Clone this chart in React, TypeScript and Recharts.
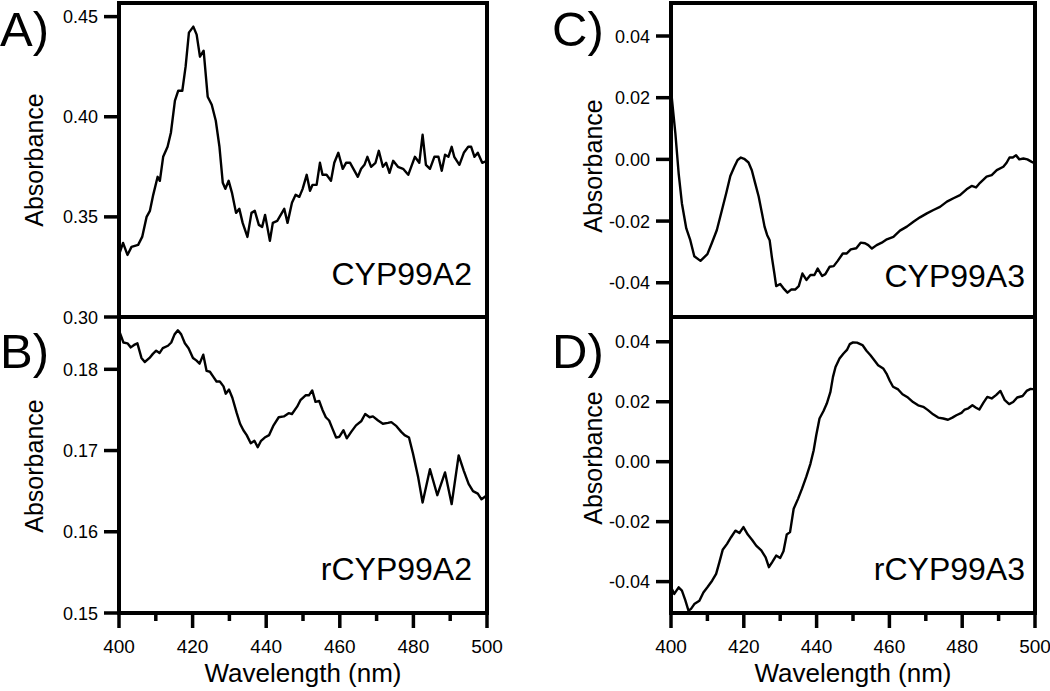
import { LineChart, Line, XAxis, YAxis } from "recharts";

// Panel A: CYP99A2
const aWave = [400, 401.1, 402.3, 403.4, 405.2, 406.3, 407.5, 408.4, 409.3, 410.5, 411.1, 412, 413.2, 414.1, 415.2, 416.1, 417.2, 418.1, 419, 420.2, 421.1, 422, 423, 424.1, 425.2, 426.3, 427.3, 428.2, 428.9, 429.8, 430.7, 431.8, 432.7, 433.6, 434.9, 436, 436.9, 438, 438.9, 439.7, 441, 441.8, 443, 444.9, 445.8, 447, 448, 449, 449.9, 451, 451.9, 452.6, 453.7, 454.6, 455.3, 456.4, 457.6, 458.5, 459.6, 460.8, 461.7, 462.8, 464.9, 465.8, 466.7, 467.5, 468.5, 469.7, 470.6, 471.7, 472.6, 473.5, 474.5, 475.8, 477.2, 478.6, 480.4, 481.6, 482.5, 483.4, 484.5, 485.7, 486.8, 487.7, 488.6, 489.5, 490.4, 491.1, 492.5, 493.7, 494.9, 495.7, 496.6, 497.5, 498.7, 500];
const aAbs = [0.331, 0.337, 0.331, 0.335, 0.336, 0.34, 0.35, 0.353, 0.361, 0.37, 0.368, 0.38, 0.385, 0.392, 0.408, 0.413, 0.413, 0.425, 0.442, 0.445, 0.441, 0.43, 0.433, 0.41, 0.406, 0.398, 0.385, 0.367, 0.364, 0.368, 0.362, 0.352, 0.354, 0.347, 0.34, 0.352, 0.353, 0.346, 0.345, 0.351, 0.338, 0.347, 0.348, 0.354, 0.347, 0.357, 0.361, 0.36, 0.364, 0.371, 0.363, 0.366, 0.366, 0.377, 0.371, 0.371, 0.368, 0.377, 0.382, 0.374, 0.377, 0.377, 0.37, 0.374, 0.376, 0.38, 0.375, 0.377, 0.383, 0.375, 0.377, 0.372, 0.378, 0.375, 0.374, 0.371, 0.38, 0.377, 0.391, 0.376, 0.374, 0.38, 0.38, 0.373, 0.381, 0.38, 0.385, 0.38, 0.376, 0.382, 0.385, 0.385, 0.38, 0.382, 0.377, 0.378];

// Panel B: rCYP99A2
const bWave = [400, 401.2, 402.3, 403.2, 404.1, 405, 406.1, 407, 408.3, 409.2, 410.1, 411, 411.9, 413.3, 414.2, 415.1, 416, 416.9, 417.9, 418.9, 420.1, 421, 421.9, 422.9, 423.8, 424.7, 425.6, 426.5, 427.4, 428.4, 429, 429.9, 430.8, 432, 432.9, 433.8, 434.7, 435.8, 436.8, 437.7, 438.6, 439.6, 440.8, 442, 443.4, 444.8, 446.1, 447, 448.4, 449.3, 450.7, 451.6, 452.5, 453.4, 454.4, 455.3, 456.2, 457.1, 458, 459, 459.9, 461, 461.9, 463.1, 464.4, 465.8, 466.9, 468.1, 469, 470.4, 471.7, 473.1, 474, 475.4, 476.7, 477.6, 478.8, 479.9, 481.3, 482.5, 484.5, 486.5, 488.6, 490.4, 492.3, 493.7, 495, 496.2, 497.5, 498.5, 500];
const bAbs = [0.1848, 0.1833, 0.1832, 0.1827, 0.183, 0.1832, 0.1814, 0.1809, 0.1814, 0.1819, 0.1823, 0.182, 0.1826, 0.1829, 0.1833, 0.1843, 0.1848, 0.1843, 0.1832, 0.1826, 0.1814, 0.1811, 0.1807, 0.1818, 0.1798, 0.1797, 0.1791, 0.1785, 0.1785, 0.1779, 0.177, 0.1775, 0.1765, 0.1746, 0.1733, 0.1725, 0.1719, 0.1709, 0.1712, 0.1704, 0.1712, 0.1716, 0.1719, 0.1731, 0.1741, 0.1742, 0.1746, 0.1745, 0.1754, 0.1762, 0.1768, 0.1768, 0.1774, 0.176, 0.1761, 0.175, 0.1741, 0.1737, 0.1727, 0.1716, 0.1717, 0.1725, 0.1715, 0.1723, 0.1731, 0.1736, 0.1745, 0.1741, 0.1742, 0.1737, 0.1733, 0.1734, 0.1735, 0.173, 0.1723, 0.1719, 0.1716, 0.1696, 0.1667, 0.1636, 0.1677, 0.1645, 0.1673, 0.1634, 0.1694, 0.1675, 0.1659, 0.165, 0.1647, 0.164, 0.1645];

// Panel C: CYP99A3
const cWave = [400, 401.2, 402.1, 403, 404.2, 405.3, 406.4, 408.1, 410, 411.2, 412.6, 414, 415.2, 416.3, 417.4, 418.3, 419.2, 420.1, 421.3, 422.2, 423.1, 424.1, 425, 425.7, 426.4, 427.1, 427.7, 428.4, 428.9, 430, 430.9, 432, 433, 434.1, 435.1, 436.1, 437.2, 438.3, 439.4, 440.3, 441.5, 442.4, 443.6, 444.7, 445.8, 447.2, 448.3, 449.4, 450.9, 452.1, 453.3, 454.2, 455.2, 456.5, 457.9, 459.3, 461.1, 462.9, 464.8, 466.6, 468.4, 470.3, 472.1, 473.9, 475.8, 477.6, 479.4, 481.2, 482.6, 483.8, 484.9, 486.7, 488.1, 489.5, 491.3, 492.2, 493, 493.9, 494.8, 495.7, 496.8, 497.9, 499.1, 500];
const cAbs = [0.0225, 0.0084, -0.0045, -0.0143, -0.0224, -0.0262, -0.0314, -0.0329, -0.0307, -0.0272, -0.0229, -0.0164, -0.0108, -0.0054, -0.0024, -0.0002, 0.0006, 0.0002, -0.001, -0.0035, -0.0076, -0.0121, -0.0175, -0.0218, -0.0245, -0.0262, -0.0316, -0.037, -0.0411, -0.0404, -0.0418, -0.0432, -0.0422, -0.0422, -0.0411, -0.037, -0.0391, -0.0375, -0.0375, -0.0354, -0.0378, -0.0372, -0.0348, -0.0346, -0.0329, -0.0305, -0.0305, -0.0292, -0.0288, -0.027, -0.0272, -0.0278, -0.0289, -0.0278, -0.027, -0.0259, -0.0251, -0.0231, -0.0218, -0.0202, -0.0188, -0.0175, -0.0164, -0.0154, -0.0137, -0.0126, -0.0116, -0.0097, -0.0086, -0.0091, -0.0076, -0.0056, -0.0051, -0.0035, -0.0024, -0.0011, 0.0006, 0.0006, 0.0013, 0.0, 0.0003, 0.0, -0.0008, -0.0013];

// Panel D: rCYP99A3
const dWave = [400, 400.9, 402.1, 403, 403.9, 404.8, 405.5, 406.4, 407.8, 408.9, 410.1, 411.3, 412.4, 413.3, 414.2, 415.4, 416.5, 417.7, 418.8, 419.9, 421.1, 422.3, 423.4, 424.8, 426, 426.9, 427.8, 428.9, 430, 430.9, 431.8, 432.7, 433.7, 434.9, 436, 437.2, 438.3, 439.2, 439.9, 440.8, 441.9, 442.8, 443.8, 444.5, 445.2, 446.3, 447.4, 448.4, 449.1, 450, 451.1, 452.6, 453.7, 454.8, 455.7, 456.9, 458.3, 459.2, 460.1, 461, 462.4, 463.6, 465.1, 466.5, 467.9, 469.3, 470.6, 472, 473.4, 474.8, 476.1, 477.3, 478.4, 479.8, 480.7, 481.7, 482.8, 483.8, 484.7, 485.8, 486.9, 488.1, 489.3, 490.5, 491.7, 492.9, 494, 495.1, 496.6, 497.7, 498.8, 500];
const dAbs = [-0.0419, -0.0441, -0.0419, -0.043, -0.0461, -0.0497, -0.0491, -0.0475, -0.0464, -0.0436, -0.0417, -0.0397, -0.0374, -0.0335, -0.0294, -0.0274, -0.0252, -0.023, -0.0238, -0.0218, -0.0243, -0.0261, -0.028, -0.0296, -0.0319, -0.0352, -0.0335, -0.0313, -0.0321, -0.0299, -0.0243, -0.0235, -0.0157, -0.0124, -0.009, -0.0049, -0.0007, 0.0038, 0.0088, 0.0144, 0.0169, 0.0194, 0.0233, 0.0283, 0.0316, 0.0344, 0.0361, 0.0374, 0.0392, 0.0398, 0.0397, 0.0389, 0.037, 0.0355, 0.0341, 0.0322, 0.0311, 0.0294, 0.027, 0.025, 0.0241, 0.0225, 0.0214, 0.0199, 0.0188, 0.0183, 0.0172, 0.0158, 0.0147, 0.0144, 0.014, 0.0147, 0.0155, 0.0163, 0.0174, 0.0178, 0.0188, 0.018, 0.0174, 0.0196, 0.0216, 0.0211, 0.0222, 0.0236, 0.0205, 0.0192, 0.0199, 0.0214, 0.0219, 0.0236, 0.0243, 0.0241];

const xMajor = [400, 420, 440, 460, 480, 500];
const xMinor = [410, 430, 450, 470, 490];
const aTicks = [0.3, 0.35, 0.4, 0.45];
const bTicks = [0.15, 0.16, 0.17, 0.18];
const cdTicks = [-0.04, -0.02, 0, 0.02, 0.04];

const FONT = '"Liberation Sans", Arial, sans-serif';
const border = { stroke: "#000", strokeWidth: 4, strokeLinecap: "square" as const };
const tickStroke = { stroke: "#000", strokeWidth: 3.5 };

const XLabel = ({ x, y, payload }: any) => (
  <text x={x} y={y} dy={19} textAnchor="middle" fontSize={19} fontFamily={FONT} fill="#000">
    {payload.value}
  </text>
);

const YLabel = ({ x, y, payload }: any) => (
  <text x={x} y={y} dy={6.5} textAnchor="end" fontSize={18} fontFamily={FONT} fill="#000">
    {payload.value.toFixed(2)}
  </text>
);

const Empty = () => <g />;

interface PanelProps {
  wave: number[];
  abs: number[];
  domain: [number, number];
  yTicks: number[];
  left: number;
  top: number;
  width: number;
  height: number;
  plot: { l: number; r: number; t: number; b: number };
  showX: boolean;
}

function Panel({ wave, abs, domain, yTicks, left, top, width, height, plot, showX }: PanelProps) {
  const data = wave.map((w, i) => ({ w, v: abs[i] }));
  // every axis is 1px thick; the second bottom axis (minor ticks) adds one more
  const margin = {
    top: plot.t - top - 1,
    bottom: top + height - plot.b - 2,
    left: plot.l - left - 1,
    right: left + width - plot.r - 1,
  };
  // top panels share their bottom edge with the lower panel and carry no x ticks
  const xTickLine = showX ? tickStroke : false;
  return (
    <div style={{ position: "absolute", left, top }}>
      <LineChart width={width} height={height} data={data} margin={margin}>
        <XAxis xAxisId="b" dataKey="w" type="number" domain={[400, 500]} ticks={xMajor} interval={0}
          height={1} tickSize={15} tickMargin={6} tickLine={xTickLine} axisLine={border} allowDataOverflow
          tick={showX ? (p: any) => <XLabel {...p} /> : Empty} />
        <XAxis xAxisId="m" dataKey="w" type="number" domain={[400, 500]} ticks={xMinor} interval={0}
          height={1} tickSize={7} tickLine={xTickLine} axisLine={false} tick={Empty} />
        <XAxis xAxisId="t" orientation="top" dataKey="w" type="number" domain={[400, 500]}
          height={1} tick={false} tickLine={false} axisLine={border} />
        <YAxis yAxisId="l" type="number" domain={domain} ticks={yTicks} interval={0} width={1}
          tickSize={15} tickMargin={6} tickLine={tickStroke} axisLine={border} allowDataOverflow
          tick={(p: any) => <YLabel {...p} />} />
        <YAxis yAxisId="r" orientation="right" type="number" domain={domain} width={1}
          tick={false} tickLine={false} axisLine={border} allowDataOverflow />
        <Line xAxisId="b" yAxisId="l" type="linear" dataKey="v" stroke="#000" strokeWidth={2.4}
          strokeLinejoin="round" dot={false} isAnimationActive={false} />
      </LineChart>
    </div>
  );
}

const T = ({ x, y, size, anchor = "start", children, rotate }: any) => (
  <text x={x} y={y} fontSize={size} fontFamily={FONT} fill="#000" textAnchor={anchor}
    transform={rotate ? `rotate(-90 ${x} ${y})` : undefined}>
    {children}
  </text>
);

export default function App() {
  return (
    <div style={{ position: "absolute", left: 0, top: 0, width: 1050, height: 691, background: "#fff" }}>
      <Panel wave={aWave} abs={aAbs} domain={[0.3, 0.4568]} yTicks={aTicks} left={0} top={0}
        width={525} height={330} plot={{ l: 119, r: 487, t: 3, b: 317 }} showX={false} />
      <Panel wave={bWave} abs={bAbs} domain={[0.15, 0.18644]} yTicks={bTicks} left={0} top={300}
        width={525} height={391} plot={{ l: 119, r: 487, t: 317, b: 613 }} showX />
      <Panel wave={cWave} abs={cAbs} domain={[-0.0511, 0.0507]} yTicks={cdTicks} left={525} top={0}
        width={525} height={330} plot={{ l: 671, r: 1035, t: 3, b: 317 }} showX={false} />
      <Panel wave={dWave} abs={dAbs} domain={[-0.05047, 0.04826]} yTicks={cdTicks} left={525} top={300}
        width={525} height={391} plot={{ l: 671, r: 1035, t: 317, b: 613 }} showX />
      <svg width={1050} height={691} style={{ position: "absolute", left: 0, top: 0, pointerEvents: "none" }}>
        <T x={0} y={46} size={49}>A)</T>
        <T x={0} y={368} size={49}>B)</T>
        <T x={552} y={46} size={49}>C)</T>
        <T x={552} y={368} size={49}>D)</T>
        <T x={43} y={160} size={25} anchor="middle" rotate>Absorbance</T>
        <T x={43} y={466} size={25} anchor="middle" rotate>Absorbance</T>
        <T x={602} y={166} size={25} anchor="middle" rotate>Absorbance</T>
        <T x={602} y={458} size={25} anchor="middle" rotate>Absorbance</T>
        <T x={472} y={285} size={32} anchor="end">CYP99A2</T>
        <T x={472} y={580} size={32} anchor="end">rCYP99A2</T>
        <T x={1025} y={287} size={32} anchor="end">CYP99A3</T>
        <T x={1025} y={580} size={32} anchor="end">rCYP99A3</T>
        <T x={303} y={682} size={26} anchor="middle">Wavelength (nm)</T>
        <T x={853} y={682} size={26} anchor="middle">Wavelength (nm)</T>
      </svg>
    </div>
  );
}
